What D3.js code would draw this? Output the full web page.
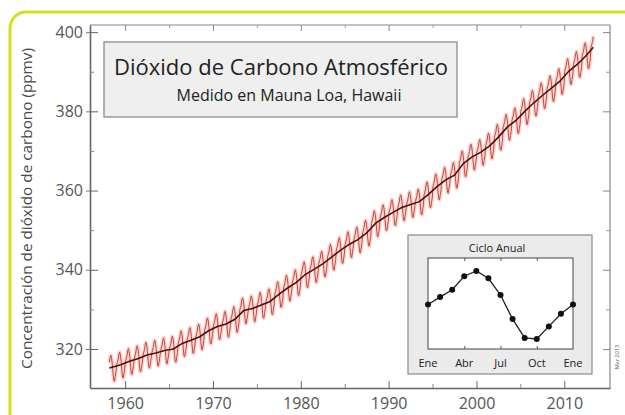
<!DOCTYPE html>
<html><head><meta charset="utf-8">
<script src="https://cdn.jsdelivr.net/npm/d3@7"></script>
<style>
html,body{margin:0;padding:0;background:#fff;}
svg{display:block;font-family:"Open Sans",sans-serif;}
</style></head>
<body><svg id="c" width="625" height="415"></svg>
<script>
// ---- data ----
const years = d3.range(1958, 2014);
const annualMean = [315.2,316.0,316.9,317.6,318.5,319.0,319.6,320.0,321.4,322.2,
  323.1,324.6,325.7,326.3,327.5,329.7,330.2,331.1,332.0,333.8,
  335.4,336.8,338.8,340.1,341.5,343.2,344.9,346.4,347.6,349.3,
  351.7,353.2,354.5,355.7,356.5,357.2,359.0,361.0,362.7,363.9,
  366.8,368.5,369.7,371.3,373.5,376.0,377.7,380.0,382.1,384.0,
  385.8,387.6,390.1,391.9,394.1,396.2];
// seasonal cycle (ppm relative to annual mean), Jan..Dec
const seasonal = [0.0,0.7,1.4,2.7,3.2,2.5,0.9,-1.4,-3.2,-3.3,-2.1,-0.9];
const firstMonth = 2;   // March 1958
const lastMonth = 3;    // April 2013
const xTicks = [1960,1970,1980,1990,2000,2010];
const xMinor = [1965,1975,1985,1995,2005];
const yTicks = [320,340,360,380,400];
const yMinor = [330,350,370,390];
const insetLabels = ["Ene","Abr","Jul","Oct","Ene"];
const insetLabelPos = [0,3,6,9,12];
const title = "Dióxido de Carbono Atmosférico";
const subtitle = "Medido en Mauna Loa, Hawaii";
const yLabel = "Concentración de dióxido de carbono (ppmv)";
const insetTitle = "Ciclo Anual";

// monthly series
const monthly = [];
years.forEach((y,i)=>{
  for(let m=0;m<12;m++){
    if(i===0 && m<firstMonth) continue;
    if(i===years.length-1 && m>lastMonth) continue;
    monthly.push({t:y+(m+0.5)/12, v:annualMean[i]+seasonal[m]});
  }
});
const trend = years.map((y,i)=>({t:y+0.5, v:annualMean[i]}));
trend[0].t = 1958.2;
trend[trend.length-1].t = 2013.3;

// ---- layout ----
const svg = d3.select("#c");
const L=90, R=610, T=25, B=388;
const x = d3.scaleLinear().domain([1956.0, 2015.2]).range([L,R]);
const y = d3.scaleLinear().domain([310.15, 401.8]).range([B,T]);

// yellow rounded frame
svg.append("rect").attr("x",10).attr("y",12).attr("width",640).attr("height",420)
  .attr("rx",16).attr("fill","none").attr("stroke","#d5df1e").attr("stroke-width",3);

// axes frame
const g = svg.append("g");
g.append("line").attr("x1",L).attr("x2",R).attr("y1",T).attr("y2",T).attr("stroke","#888").attr("stroke-width",1.2);
g.append("line").attr("x1",R).attr("x2",R).attr("y1",T).attr("y2",B).attr("stroke","#888").attr("stroke-width",1.2);

const axB = d3.axisBottom(x).tickValues(xTicks).tickFormat(d3.format("d")).tickSizeInner(-7).tickSizeOuter(0).tickPadding(10);
const axL = d3.axisLeft(y).tickValues(yTicks).tickSizeInner(-8).tickSizeOuter(0).tickPadding(7);
const gB = g.append("g").attr("transform",`translate(0,${B})`).call(axB);
const gL = g.append("g").attr("transform",`translate(${L},0)`).call(axL);
[gB,gL].forEach(a=>{
  a.select(".domain").attr("stroke","#666").attr("stroke-width",1.6);
  a.selectAll(".tick line").attr("stroke","#666").attr("stroke-width",1);
  a.selectAll(".tick text").attr("fill","#555").attr("font-size",16).attr("font-family","Open Sans, sans-serif");
});
// small outward stubs on left major ticks
g.append("g").attr("transform",`translate(${L},0)`)
  .call(d3.axisLeft(y).tickValues(yTicks).tickSizeInner(4).tickSizeOuter(0).tickFormat(""))
  .call(a=>{a.select(".domain").remove();a.selectAll("line").attr("stroke","#777");});
// minor ticks + top/right ticks
g.append("g").attr("transform",`translate(0,${B})`)
  .call(d3.axisBottom(x).tickValues(xMinor).tickSizeInner(-4).tickSizeOuter(0).tickFormat(""))
  .call(a=>{a.select(".domain").remove();a.selectAll("line").attr("stroke","#888");});
g.append("g").attr("transform",`translate(0,${T})`)
  .call(d3.axisTop(x).tickValues(xTicks).tickSizeInner(-6).tickSizeOuter(0).tickFormat(""))
  .call(a=>{a.select(".domain").remove();a.selectAll("line").attr("stroke","#888");});
g.append("g").attr("transform",`translate(0,${T})`)
  .call(d3.axisTop(x).tickValues(xMinor).tickSizeInner(-3).tickSizeOuter(0).tickFormat(""))
  .call(a=>{a.select(".domain").remove();a.selectAll("line").attr("stroke","#999");});
g.append("g").attr("transform",`translate(${L},0)`)
  .call(d3.axisLeft(y).tickValues(yMinor).tickSizeInner(-4).tickSizeOuter(0).tickFormat(""))
  .call(a=>{a.select(".domain").remove();a.selectAll("line").attr("stroke","#888");});
g.append("g").attr("transform",`translate(${R},0)`)
  .call(d3.axisRight(y).tickValues(yTicks).tickSizeInner(-7).tickSizeOuter(0).tickFormat(""))
  .call(a=>{a.select(".domain").remove();a.selectAll("line").attr("stroke","#888");});
g.append("g").attr("transform",`translate(${R},0)`)
  .call(d3.axisRight(y).tickValues(yMinor).tickSizeInner(-4).tickSizeOuter(0).tickFormat(""))
  .call(a=>{a.select(".domain").remove();a.selectAll("line").attr("stroke","#999");});

// y label
svg.append("text").attr("transform",`translate(32,${(T+B)/2+2}) rotate(-90)`)
  .attr("text-anchor","middle").attr("font-size",15.3).attr("fill","#4a4a4a").text(yLabel);

// title box
svg.append("rect").attr("x",104).attr("y",42).attr("width",353).attr("height",75)
  .attr("fill","#efefef").attr("stroke","#8a8a8a").attr("stroke-width",1.3);
svg.append("text").attr("x",281).attr("y",75).attr("text-anchor","middle")
  .attr("font-size",22).attr("fill","#222").text(title);
svg.append("text").attr("x",289).attr("y",101).attr("text-anchor","middle")
  .attr("font-size",16).attr("fill","#222").text(subtitle);

// data lines
const line = d3.line().x(d=>x(d.t)).y(d=>y(d.v));
svg.append("path").datum(monthly).attr("d",line).attr("fill","none")
  .attr("stroke","#f7b2aa").attr("stroke-width",4).attr("stroke-opacity",0.55).attr("stroke-linejoin","round");
svg.append("path").datum(monthly).attr("d",line).attr("fill","none")
  .attr("stroke","#c9463c").attr("stroke-width",1).attr("stroke-linejoin","round");
svg.append("path").datum(trend).attr("d",line).attr("fill","none")
  .attr("stroke","#4a1010").attr("stroke-width",1.6);

// inset
svg.append("rect").attr("x",408).attr("y",235).attr("width",184).attr("height",139)
  .attr("fill","#ebebeb").attr("stroke","#8a8a8a").attr("stroke-width",1.2);
const ix = d3.scaleLinear().domain([0,12]).range([428,573]);
const iy = d3.scaleLinear().domain([-4.26,4.44]).range([349,258]);
svg.append("rect").attr("x",428).attr("y",258).attr("width",145).attr("height",91)
  .attr("fill","#fff").attr("stroke","#555").attr("stroke-width",1.1);
svg.append("g").attr("transform","translate(0,258)")
  .call(d3.axisTop(ix).tickValues([3,6,9]).tickSizeInner(-3).tickSizeOuter(0).tickFormat(""))
  .call(a=>{a.select(".domain").remove();a.selectAll("line").attr("stroke","#555");});
svg.append("g").attr("transform","translate(0,349)")
  .call(d3.axisBottom(ix).tickValues([3,6,9]).tickSizeInner(-3).tickSizeOuter(0).tickFormat(""))
  .call(a=>{a.select(".domain").remove();a.selectAll("line").attr("stroke","#555");});
const cyc = seasonal.concat([seasonal[0]]).map((v,i)=>({m:i,v}));
svg.append("path").datum(cyc).attr("d",d3.line().x(d=>ix(d.m)).y(d=>iy(d.v)))
  .attr("fill","none").attr("stroke","#222").attr("stroke-width",1.3);
svg.selectAll("circle.pt").data(cyc).join("circle").attr("class","pt")
  .attr("cx",d=>ix(d.m)).attr("cy",d=>iy(d.v)).attr("r",3).attr("fill","#111");
svg.append("text").attr("x",497).attr("y",252).attr("text-anchor","middle")
  .attr("font-size",11).attr("fill","#222").text(insetTitle);
svg.selectAll("text.il").data(insetLabels).join("text").attr("class","il")
  .attr("x",(d,i)=>ix(insetLabelPos[i])).attr("y",367).attr("text-anchor","middle")
  .attr("font-size",11).attr("fill","#222").text(d=>d);

// small stamp
svg.append("text").attr("transform","translate(619,357) rotate(-90)")
  .attr("text-anchor","middle").attr("font-size",5.5).attr("fill","#555").text("Mar 2013");
</script></body></html>
